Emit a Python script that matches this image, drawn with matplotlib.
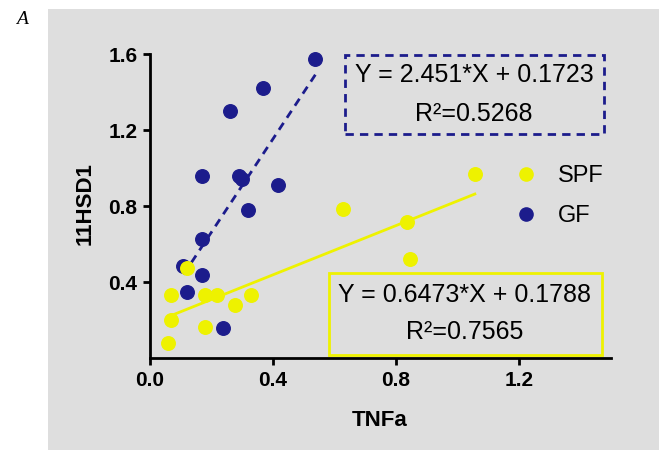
import matplotlib
matplotlib.use("Agg")
import numpy as np
import matplotlib.pyplot as plt
from matplotlib.patches import Rectangle
from matplotlib.lines import Line2D

# data
spf_x = [1.057, 0.628, 0.835, 0.846, 0.120, 0.069, 0.179, 0.218, 0.330, 0.277, 0.069, 0.179, 0.060]
spf_y = [0.967, 0.785, 0.715, 0.522, 0.473, 0.333, 0.333, 0.333, 0.333, 0.280, 0.201, 0.165, 0.078]

gf_x = [0.538, 0.368, 0.259, 0.169, 0.288, 0.299, 0.417, 0.319, 0.169, 0.109, 0.169, 0.120, 0.239]
gf_y = [1.575, 1.422, 1.302, 0.958, 0.958, 0.941, 0.909, 0.777, 0.624, 0.486, 0.435, 0.347, 0.160]

gf_slope, gf_icpt, gf_r2 = 2.451, 0.1723, 0.5268
spf_slope, spf_icpt, spf_r2 = 0.6473, 0.1788, 0.7565

navy = "#1c1c8c"
yellow = "#eef200"
grey = "#dedede"

plt.rcParams["font.family"] = ["Liberation Sans", "DejaVu Sans"]

fig = plt.figure(figsize=(6.59, 4.5), dpi=100)
fig.patch.set_facecolor("white")
W, H = 659, 450

def fx(px):
    return px / W

def fy(py):
    return 1 - py / H

# grey panel behind the chart
fig.patches.append(Rectangle((fx(48), 0), 1 - fx(48), fy(9), transform=fig.transFigure,
                             facecolor=grey, edgecolor="none", zorder=-10))

ax = fig.add_axes([fx(150), fy(358), fx(611) - fx(150), fy(54) - fy(358)])
ax.set_zorder(2)
ax.set_facecolor("none")
ax.set_xlim(0, 1.5)
ax.set_ylim(0, 1.6)

ax.scatter(gf_x, gf_y, s=95, color=navy, zorder=3, clip_on=False)
xs = np.array([min(gf_x), max(gf_x)])
ax.plot(xs, gf_slope * xs + gf_icpt, color=navy, lw=2.0, dashes=(3, 2.2), zorder=3)

ax.scatter(spf_x, spf_y, s=95, color=yellow, zorder=4, clip_on=False)
xs = np.array([min(spf_x), max(spf_x)])
ax.plot(xs, spf_slope * xs + spf_icpt, color=yellow, lw=2.0, zorder=4)

for s in ["top", "right"]:
    ax.spines[s].set_visible(False)
for s in ["left", "bottom"]:
    ax.spines[s].set_linewidth(2.0)
ax.set_xticks([0.0, 0.4, 0.8, 1.2])
ax.set_yticks([0.4, 0.8, 1.2, 1.6])
ax.set_xticklabels(["0.0", "0.4", "0.8", "1.2"])
ax.set_yticklabels(["0.4", "0.8", "1.2", "1.6"])
ax.tick_params(direction="out", length=5, width=2.0, labelsize=15, pad=4)
for lab in ax.get_xticklabels() + ax.get_yticklabels():
    lab.set_fontweight("bold")

fig.text(fx(380), fy(420), "TNFa", fontsize=16, fontweight="bold", ha="center", va="center")
fig.text(fx(85), fy(204), "11HSD1", fontsize=16, fontweight="bold", ha="center", va="center",
         rotation=90)
fig.text(fx(22), fy(20), "A", fontsize=14, family="Liberation Serif", style="italic",
         ha="center", va="center")

# legend
handles = [Line2D([], [], ls="none", marker="o", ms=9.5, color=yellow),
           Line2D([], [], ls="none", marker="o", ms=9.5, color=navy)]
fig.legend(handles, ["SPF", "GF"], loc="center left", bbox_to_anchor=(fx(500), fy(196)),
           frameon=False, fontsize=17, handletextpad=0.75, labelspacing=0.75,
           handlelength=1.2, borderpad=0)

# equation boxes
fig.patches.append(Rectangle((fx(345), fy(134)), fx(604) - fx(345), fy(55) - fy(134),
                             transform=fig.transFigure, facecolor="none", edgecolor=navy,
                             lw=2.0, ls=(0, (3, 2.2)), zorder=5))
fig.text(fx(474), fy(75), f"Y = {gf_slope}*X + {gf_icpt}", fontsize=18, ha="center", va="center")
fig.text(fx(474), fy(114), f"R²={gf_r2}", fontsize=18, ha="center", va="center")

fig.patches.append(Rectangle((fx(329), fy(355)), fx(602) - fx(329), fy(273) - fy(355),
                             transform=fig.transFigure, facecolor="none", edgecolor=yellow,
                             lw=2.0, zorder=5))
fig.text(fx(465), fy(295), f"Y = {spf_slope}*X + {spf_icpt}", fontsize=18, ha="center", va="center")
fig.text(fx(465), fy(332), f"R²={spf_r2}", fontsize=18, ha="center", va="center")

fig.savefig("out.png", dpi=100)
